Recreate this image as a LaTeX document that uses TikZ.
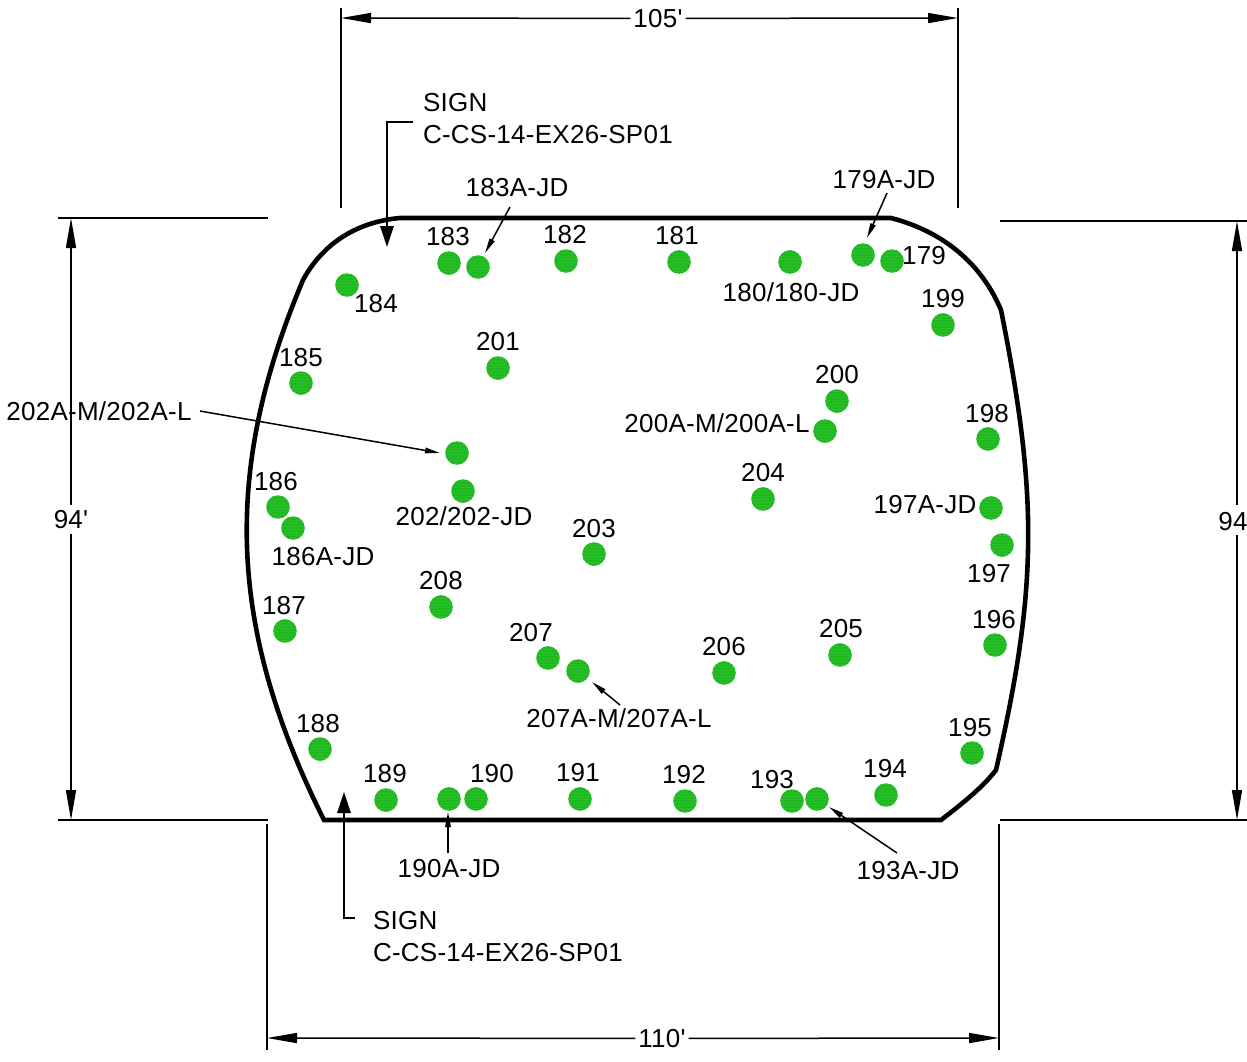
\documentclass[tikz,border=0pt]{standalone}
\usepackage{fontspec}
\newfontfamily\labfont[LetterSpace=1.0]{Liberation Sans}
\usetikzlibrary{arrows.meta,patterns}
\definecolor{dotgreen}{RGB}{32,184,32}
\definecolor{dotline}{RGB}{44,192,44}
\tikzset{
  dot/.style={circle,fill=dotgreen,draw=none,minimum size=23.5pt,inner sep=0pt,outer sep=0pt,
    postaction={pattern=horizontal lines,pattern color=dotline}},
  lab/.style={font=\labfont\fontsize{26}{30}\selectfont,text=black,inner sep=0pt,outer sep=0pt,text height=18.6pt,text depth=0pt,yshift=-0.4pt},
  dim/.style={line width=1.5pt,black},
  dimarrow/.style={dim,-{Triangle[length=30pt,width=10pt]}},
  signarrow/.style={line width=1.6pt,black,-{Triangle[length=21pt,width=13.5pt]}},
  lead/.style={line width=1.5pt,black,-{Triangle[length=15pt,width=5.5pt]}},
  outline/.style={line width=4.6pt,black,line join=miter},
}
\begin{document}
\begin{tikzpicture}[x=1pt,y=-1pt]
\useasboundingbox (0,0) rectangle (1247,1061);
% outline
\draw[outline] (324,820) -- (941,820)
  .. controls (963,803) and (983,787) .. (996,770)
  .. controls (1037,590) and (1039,500) .. (1001,310)
  .. controls (982,265) and (945,232) .. (891,218)
  -- (400,218)
  .. controls (355,222) and (322,245) .. (303,280)
  .. controls (222,472) and (228,628) .. (324,820) -- cycle;
% dots
\foreach \n/\x/\y in {183/449/263,183A/478/267,182/566/261,181/679/262,180/790/262,179A/863/255,179/892/261,184/347/285,199/943/325,185/301/383,201/498/368,200/837/401,200A/825/431,198/988/439,202A/457/453,202/463/491,204/763/499,186/278/507,186A/293/528,197A/991/508,197/1002/545,203/594/554,208/441/607,187/285/631,196/995/645,207/548/658,207A/578/671,206/724/673,205/840/655,188/320/749,195/972/753,189/386/800,190A/449/799,190/476/799,191/580/799,192/685/801,193/792/801,193A/817/799,194/886/795}
  {\node[dot] (d\n) at (\x,\y) {};}
% labels
\node[lab] (l183) at (448,236) {183};
\node[lab] (l183A) at (517,187) {183A-JD};
\node[lab] (l182) at (565,234) {182};
\node[lab] (l181) at (677,235) {181};
\node[lab] (l180) at (791,292) {180/180-JD};
\node[lab] (l179A) at (884,179) {179A-JD};
\node[lab] (l179) at (924,255) {179};
\node[lab] (l184) at (376,303) {184};
\node[lab] (l199) at (943,298) {199};
\node[lab] (l185) at (301,357) {185};
\node[lab] (l201) at (498,341) {201};
\node[lab] (l200) at (837,374) {200};
\node[lab] (l200A) at (717,423) {200A-M/200A-L};
\node[lab] (l198) at (987,413) {198};
\node[lab] (l202A) at (99,411) {202A-M/202A-L};
\node[lab] (l202) at (464,516) {202/202-JD};
\node[lab] (l204) at (763,472) {204};
\node[lab] (l186) at (276,481) {186};
\node[lab] (l186A) at (323,556) {186A-JD};
\node[lab] (l197A) at (925,504) {197A-JD};
\node[lab] (l197) at (989,573) {197};
\node[lab] (l203) at (594,528) {203};
\node[lab] (l208) at (441,580) {208};
\node[lab] (l187) at (284,605) {187};
\node[lab] (l196) at (994,619) {196};
\node[lab] (l207) at (531,632) {207};
\node[lab] (l207A) at (619,718) {207A-M/207A-L};
\node[lab] (l206) at (724,646) {206};
\node[lab] (l205) at (841,628) {205};
\node[lab] (l188) at (318,723) {188};
\node[lab] (l195) at (970,727) {195};
\node[lab] (l189) at (385,773) {189};
\node[lab] (l190A) at (449,868) {190A-JD};
\node[lab] (l190) at (492,773) {190};
\node[lab] (l191) at (578,772) {191};
\node[lab] (l192) at (684,774) {192};
\node[lab] (l193) at (772,779) {193};
\node[lab] (l193A) at (908,870) {193A-JD};
\node[lab] (l194) at (885,768) {194};
% sign labels
\node[lab,anchor=west] (s1a) at (423,102) {SIGN};
\node[lab,anchor=west] (s1b) at (423,134) {C-CS-14-EX26-SP01};
\node[lab,anchor=west] (s2a) at (373,920) {SIGN};
\node[lab,anchor=west] (s2b) at (373,952) {C-CS-14-EX26-SP01};
% dimension labels
\node[lab] (w105) at (658,18) {105'};
\node[lab] (w110) at (662,1038) {110'};
\node[lab] (h94l) at (71,519) {94'};
\node[lab] (h94r) at (1233,521) {94};
% anchors of free ends
\coordinate (ta) at (341,18); \coordinate (tb) at (958,18);
\coordinate (ba) at (267,1038); \coordinate (bb) at (999,1038);
\coordinate (la) at (71,218); \coordinate (lb) at (71,820);
\coordinate (ra) at (1237,221); \coordinate (rb) at (1237,820);
\coordinate (r1) at (1237,505); \coordinate (r2) at (1237,535);
\coordinate (c183a) at (510,207); \coordinate (c183b) at (485,253);
\coordinate (c179a) at (887,193); \coordinate (c179b) at (867,238);
\coordinate (c202a) at (200,411); \coordinate (c202b) at (440,453);
\coordinate (c207a) at (620,705); \coordinate (c207b) at (592,682);
\coordinate (c193a) at (897,853); \coordinate (c193b) at (829,807);
\coordinate (c190a) at (448,853); \coordinate (c190b) at (448,812);
\coordinate (s1s) at (413,122); \coordinate (s1k) at (387,122); \coordinate (s1e) at (387,247);
\coordinate (s2s) at (355,918); \coordinate (s2k) at (344,918); \coordinate (s2e) at (344,792);
% extension lines
\draw[dim] (341,8) -- (341,208);
\draw[dim] (958,8) -- (958,208);
\draw[dim] (58,218) -- (268,218);
\draw[dim] (58,820) -- (268,820);
\draw[dim] (1000,221) -- (1247,221);
\draw[dim] (1000,820) -- (1247,820);
\draw[dim] (267,824) -- (267,1050);
\draw[dim] (999,824) -- (999,1050);
% dimension arrows
\draw[dimarrow] ([xshift=-3pt]w105.west) -- (ta);
\draw[dimarrow] ([xshift=3pt]w105.east) -- (tb);
\draw[dimarrow] ([xshift=-3pt]w110.west) -- (ba);
\draw[dimarrow] ([xshift=3pt]w110.east) -- (bb);
\draw[dimarrow] ([yshift=5pt]h94l.north) -- (la);
\draw[dimarrow] ([yshift=-5pt]h94l.south) -- (lb);
\draw[dimarrow] (r1) -- (ra);
\draw[dimarrow] (r2) -- (rb);
% sign leaders
\draw[signarrow] (s1s) -- (s1k) -- (s1e);
\draw[signarrow] (s2s) -- (s2k) -- (s2e);
% callouts
\draw[lead] (c183a) -- (c183b);
\draw[lead] (c179a) -- (c179b);
\draw[lead] (c202a) -- (c202b);
\draw[lead] (c207a) -- (c207b);
\draw[lead] (c193a) -- (c193b);
\draw[lead] (c190a) -- (c190b);
\end{tikzpicture}
\end{document}
